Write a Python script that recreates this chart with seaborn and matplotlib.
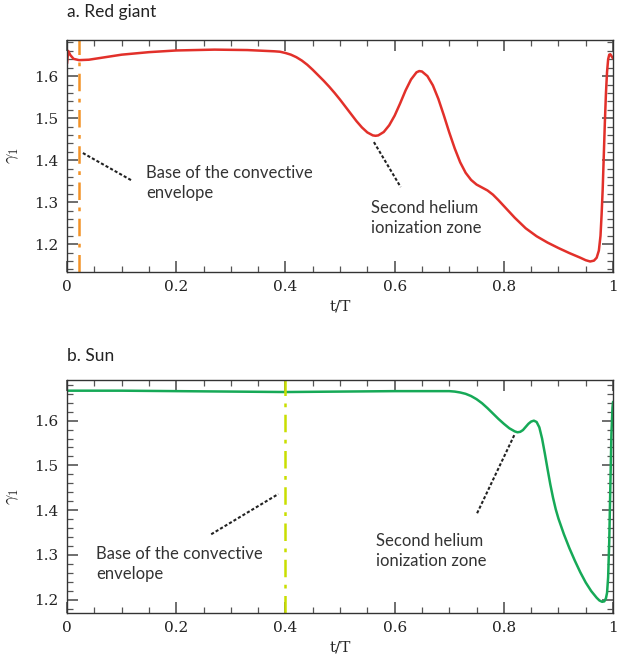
import pandas as pd
import matplotlib
matplotlib.use('Agg')
import matplotlib.pyplot as plt
import seaborn as sns
from matplotlib.ticker import MultipleLocator

# Red giant gamma_1 profile
rg_t = [0.000, 0.002, 0.006, 0.012, 0.022, 0.04, 0.06, 0.10, 0.15, 0.20, 0.27, 0.33,
        0.38, 0.39, 0.40, 0.41, 0.42, 0.43, 0.44, 0.45, 0.46, 0.47, 0.48, 0.49, 0.50,
        0.51, 0.52, 0.53, 0.54, 0.55, 0.56, 0.565, 0.57, 0.58, 0.59, 0.60, 0.61, 0.62,
        0.63, 0.64, 0.645, 0.65, 0.66, 0.67, 0.68, 0.69, 0.70, 0.71, 0.72, 0.73, 0.74,
        0.75, 0.76, 0.77, 0.78, 0.79, 0.80, 0.81, 0.82, 0.84, 0.86, 0.88, 0.90, 0.92,
        0.94, 0.95, 0.958, 0.965, 0.970, 0.974, 0.977, 0.979, 0.981, 0.983, 0.985,
        0.987, 0.989, 0.991, 0.993, 0.995, 0.997, 1.000]
rg_gamma = [1.630, 1.660, 1.650, 1.641, 1.638, 1.639, 1.643, 1.651, 1.657, 1.661, 1.663, 1.662,
            1.659, 1.658, 1.655, 1.651, 1.645, 1.637, 1.627, 1.615, 1.602, 1.589, 1.575, 1.560, 1.544,
            1.527, 1.510, 1.493, 1.478, 1.466, 1.459, 1.458, 1.459, 1.467, 1.483, 1.506, 1.535, 1.566,
            1.592, 1.609, 1.612, 1.611, 1.600, 1.578, 1.546, 1.507, 1.466, 1.428, 1.395, 1.370, 1.353,
            1.342, 1.335, 1.328, 1.318, 1.305, 1.291, 1.277, 1.263, 1.238, 1.219, 1.204, 1.191, 1.179,
            1.168, 1.162, 1.159, 1.161, 1.168, 1.185, 1.220, 1.270, 1.330, 1.410, 1.490,
            1.560, 1.610, 1.640, 1.651, 1.652, 1.648, 1.642]

# Sun gamma_1 profile
sun_t = [0.00, 0.1, 0.2, 0.3, 0.4, 0.5, 0.6, 0.70, 0.71, 0.72, 0.73, 0.74, 0.75, 0.76,
         0.77, 0.78, 0.79, 0.80, 0.81, 0.82, 0.825, 0.83, 0.835, 0.84, 0.845, 0.85,
         0.855, 0.86, 0.865, 0.87, 0.875, 0.88, 0.885, 0.89, 0.895, 0.90, 0.91, 0.92,
         0.93, 0.94, 0.95, 0.96, 0.97, 0.975, 0.98, 0.984, 0.987, 0.989, 0.991, 0.993,
         0.995, 0.997, 0.999, 1.000]
sun_gamma = [1.667, 1.667, 1.666, 1.665, 1.664, 1.665, 1.666, 1.666, 1.665, 1.663, 1.660, 1.655, 1.648, 1.639,
             1.628, 1.616, 1.604, 1.593, 1.583, 1.576, 1.574, 1.575, 1.579, 1.586, 1.593, 1.598,
             1.600, 1.597, 1.585, 1.560, 1.527, 1.492, 1.458, 1.428, 1.402, 1.381, 1.346, 1.315,
             1.287, 1.261, 1.238, 1.219, 1.204, 1.198, 1.195, 1.196, 1.203, 1.215, 1.250, 1.330,
             1.450, 1.570, 1.630, 1.642]

# convective envelope base positions
rg_base = 0.022
sun_base = 0.40

rg = pd.DataFrame({'t': rg_t, 'gamma': rg_gamma})
sun = pd.DataFrame({'t': sun_t, 'gamma': sun_gamma})

sns.set_theme(style='ticks')
plt.rcParams['mathtext.fontset'] = 'cm'
plt.rcParams['font.family'] = ['DejaVu Serif']

fig = plt.figure(figsize=(6.18, 6.66), dpi=100)
ax1 = fig.add_axes([0.1085, 0.5916, 0.8835, 0.3484])
ax2 = fig.add_axes([0.1085, 0.0796, 0.8835, 0.3499])

label_font = dict(family='Lato', size=12, color='#333333')

sns.lineplot(data=rg, x='t', y='gamma', ax=ax1, color='#e2302a', lw=1.8, sort=False)
ax1.axvline(rg_base, color='#f39226', lw=1.8, ls=(0, (7, 3, 1.5, 3)))
ax1.set_ylim(1.134, 1.686)
ax1.plot([0.029, 0.118], [1.417, 1.352], color='#222222', lw=1.5, ls=(0, (1.5, 1)))
ax1.text(0.145, 1.345, 'Base of the convective\nenvelope', va='center', ha='left',
         linespacing=1.3, **label_font)
ax1.plot([0.562, 0.611], [1.443, 1.336], color='#222222', lw=1.5, ls=(0, (1.5, 1)))
ax1.text(0.556, 1.262, 'Second helium\nionization zone', va='center', ha='left',
         linespacing=1.3, **label_font)

sns.lineplot(data=sun, x='t', y='gamma', ax=ax2, color='#16a957', lw=1.8, sort=False)
ax2.axvline(sun_base, color='#c9df00', lw=1.8, ls=(0, (7, 3, 1.5, 3)))
ax2.set_ylim(1.17, 1.691)
ax2.plot([0.264, 0.387], [1.346, 1.436], color='#222222', lw=1.5, ls=(0, (1.5, 1)))
ax2.text(0.053, 1.279, 'Base of the convective\nenvelope', va='center', ha='left',
         linespacing=1.3, **label_font)
ax2.plot([0.751, 0.82], [1.393, 1.57], color='#222222', lw=1.5, ls=(0, (1.5, 1)))
ax2.text(0.566, 1.308, 'Second helium\nionization zone', va='center', ha='left',
         linespacing=1.3, **label_font)

for ax in (ax1, ax2):
    ax.set_xlim(0, 1)
    ax.xaxis.set_major_locator(MultipleLocator(0.2))
    ax.xaxis.set_minor_locator(MultipleLocator(0.05))
    ax.yaxis.set_major_locator(MultipleLocator(0.1))
    ax.yaxis.set_minor_locator(MultipleLocator(0.02))
    ax.set_xticks([0, 0.2, 0.4, 0.6, 0.8, 1.0])
    ax.set_xticklabels(['0', '0.2', '0.4', '0.6', '0.8', '1'])
    ax.tick_params(which='both', direction='in', top=True, right=True, colors='#555555',
                   labelcolor='#222222', labelsize=11)
    ax.tick_params(which='major', length=8, width=1.2, pad=6)
    ax.tick_params(which='minor', length=4, width=0.9)
    for s in ax.spines.values():
        s.set_color('#333333')
        s.set_linewidth(1.0)
    ax.set_xlabel('t/T', fontsize=11, labelpad=4)
    ax.set_ylabel(r'$\gamma_1$', fontsize=13, labelpad=10)

fig.text(0.1085, 0.982, 'a. Red giant', va='center', ha='left', family='Lato', size=12.5, color='#222222')
fig.text(0.1085, 0.4655, 'b. Sun', va='center', ha='left', family='Lato', size=12.5, color='#222222')

fig.savefig('out.png', dpi=100)
